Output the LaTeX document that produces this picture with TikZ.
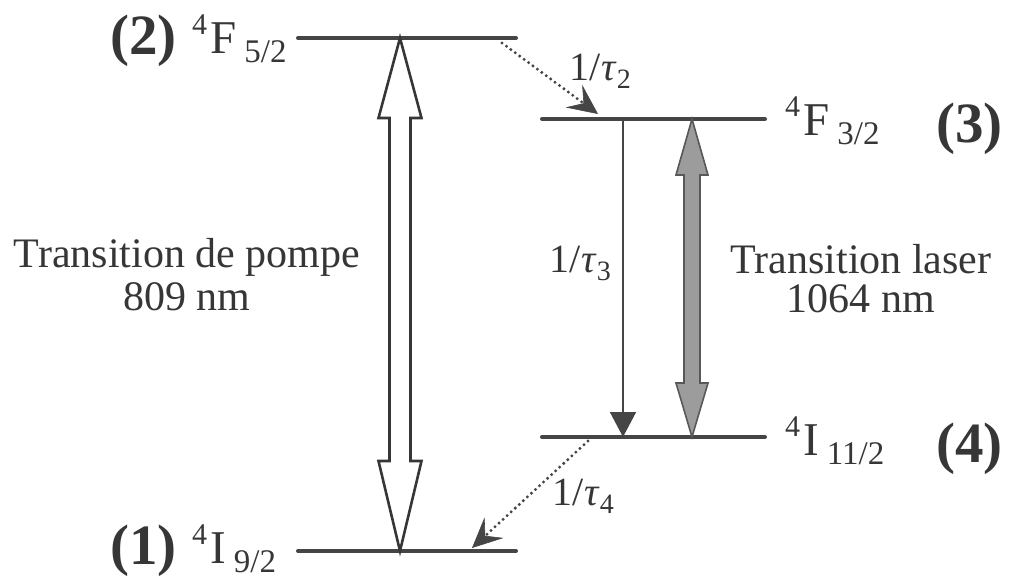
\documentclass[tikz,border=0pt]{standalone}
\usepackage{fontspec}
\setmainfont{Liberation Serif}[Ligatures=TeX]
\newfontfamily\timesfont{Liberation Serif}
\usetikzlibrary{arrows.meta,calc}
\definecolor{ink}{HTML}{363636}
\definecolor{lvl}{HTML}{454545}
\definecolor{lasergray}{HTML}{9C9C9C}
\newcommand{\term}[3]{\timesfont{\fontsize{30}{30}\selectfont\raisebox{19pt}{#1}}\hspace{3pt}{\fontsize{47}{47}\selectfont #2}\hspace{8pt}{\fontsize{33}{33}\selectfont\raisebox{-9pt}{#3}}}
\newcommand{\rate}[1]{\timesfont{\fontsize{40}{40}\selectfont 1/\hspace{1pt}\textit{τ}}{\fontsize{28}{28}\selectfont\raisebox{-8pt}{#1}}}
\begin{document}
\begin{tikzpicture}[x=1pt,y=-1pt,
  level/.style={line width=4pt,draw=lvl,line cap=round},
  txt/.style={text=ink,inner sep=0pt,font=\timesfont\fontsize{42}{42}\selectfont},
  num/.style={text=ink,inner sep=0pt,font=\timesfont\fontsize{57}{57}\selectfont\bfseries},
  ratelbl/.style={text=ink,inner sep=0pt,anchor=base west},
  dotarrow/.style={draw=lvl,line width=3.3pt,line cap=round,dash pattern=on 0pt off 5.5pt,
    -{Stealth[length=30pt,width=28pt,inset=12pt,line width=0.6pt,fill=lvl]}},
  decay/.style={draw=lvl,line width=1.6pt,-{Triangle[length=25pt,width=26pt,fill=lvl]}},
  pumpbody/.style={draw=ink,line width=2.6pt,fill=white,line join=miter},
  laserbody/.style={draw=lvl!90,line width=1.6pt,fill=lasergray,line join=miter}]
\useasboundingbox (0,0) rectangle (1009,581);
% levels
\coordinate (L2a) at (298,38);  \coordinate (L2b) at (516,38);
\coordinate (L1a) at (298,551); \coordinate (L1b) at (516,551);
\coordinate (L3a) at (542,119); \coordinate (L3b) at (765,119);
\coordinate (L4a) at (542,437); \coordinate (L4b) at (765,437);
\draw[level] (L2a) -- (L2b);
\draw[level] (L1a) -- (L1b);
\draw[level] (L3a) -- (L3b);
\draw[level] (L4a) -- (L4b);
% pump arrow
\coordinate (p2) at (400,38);
\coordinate (p1) at (400,551);
\draw[pumpbody] (p2) -- ($(p2)+(21.5,80)$) -- ($(p2)+(10.5,80)$) -- ($(p1)+(10.5,-90)$) -- ($(p1)+(21.5,-90)$)
  -- (p1) -- ($(p1)+(-21.5,-90)$) -- ($(p1)+(-10.5,-90)$) -- ($(p2)+(-10.5,80)$) -- ($(p2)+(-21.5,80)$) -- cycle;
% laser arrow
\coordinate (l3) at (692,119);
\coordinate (l4) at (692,437);
\draw[laserbody] (l3) -- ($(l3)+(16,56)$) -- ($(l3)+(8,56)$) -- ($(l4)+(8,-54)$) -- ($(l4)+(16,-54)$)
  -- (l4) -- ($(l4)+(-16,-54)$) -- ($(l4)+(-8,-54)$) -- ($(l3)+(-8,56)$) -- ($(l3)+(-16,56)$) -- cycle;
% decay 3 -> 4
\coordinate (d3) at (623,119);
\coordinate (d4) at (623,437);
\draw[decay] (d3) -- (d4);
% dotted relaxations
\coordinate (r2s) at (502,43);
\coordinate (r2e) at (598,114);
\draw[dotarrow] (r2s) -- (r2e);
\coordinate (r4s) at (588,441);
\coordinate (r4e) at (472,548);
\draw[dotarrow] (r4s) -- (r4e);
% level labels
\node[num,anchor=base east] (n2) at (177,54) {(2)};
\node[txt,anchor=base west] (t2) at (192,53) {\term{4}{F}{5/2}};
\node[num,anchor=base east] (n1) at (177,564) {(1)};
\node[txt,anchor=base west] (t1) at (192,563) {\term{4}{I}{9/2}};
\node[txt,anchor=base west] (t3) at (785,135) {\term{4}{F}{3/2}};
\node[num,anchor=base east] (n3) at (1003,142) {(3)};
\node[txt,anchor=base west] (t4) at (785,455) {\term{4}{I}{11/2}};
\node[num,anchor=base east] (n4) at (1003,462) {(4)};
% transition labels
\node[txt,anchor=base] (pa) at (187,267) {Transition de pompe};
\node[txt,anchor=base] (pb) at (187,310) {809 nm};
\node[txt,anchor=base] (la) at (861,273) {Transition laser};
\node[txt,anchor=base] (lb) at (861,312) {1064 nm};
% rates
\node[ratelbl] (tau2) at (569,80) {\rate{2}};
\node[ratelbl] (tau3) at (549,272) {\rate{3}};
\node[ratelbl] (tau4) at (552,505) {\rate{4}};
\end{tikzpicture}
\end{document}
